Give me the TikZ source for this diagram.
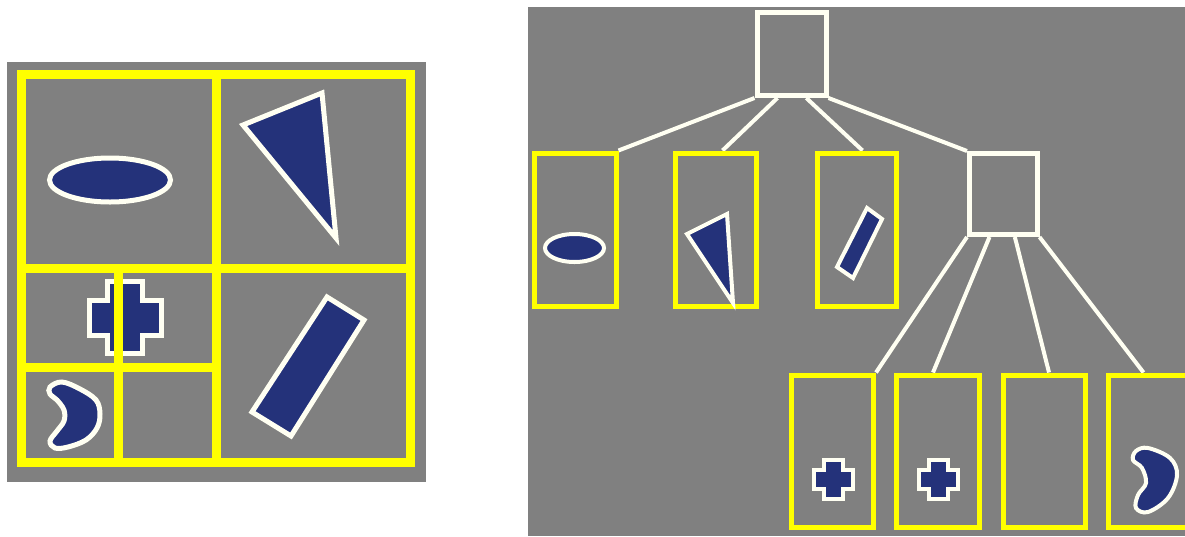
\documentclass[tikz,border=0pt]{standalone}
\usetikzlibrary{calc}
\pgfdeclarelayer{back}
\pgfdeclarelayer{lines}
\pgfsetlayers{back,lines,main}
\definecolor{panelgray}{RGB}{128,128,128}
\definecolor{boxyellow}{RGB}{255,255,0}
\definecolor{navy}{RGB}{36,50,122}
\definecolor{cream}{RGB}{255,255,242}
\newcommand{\drawplus}[5]{%
  \draw[#5] ({#1-#4},{#2-#3}) -- ({#1+#4},{#2-#3}) -- ({#1+#4},{#2-#4}) -- ({#1+#3},{#2-#4}) -- ({#1+#3},{#2+#4}) -- ({#1+#4},{#2+#4}) -- ({#1+#4},{#2+#3}) -- ({#1-#4},{#2+#3}) -- ({#1-#4},{#2+#4}) -- ({#1-#3},{#2+#4}) -- ({#1-#3},{#2-#4}) -- ({#1-#4},{#2-#4}) -- cycle;}
\begin{document}
\begin{tikzpicture}[x=1pt,y=-1pt,
  gridline/.style={draw=boxyellow,line width=9pt},
  bigshape/.style={fill=navy,draw=cream,line width=5pt,line join=miter},
  smallshape/.style={fill=navy,draw=cream,line width=4pt,line join=miter},
  treebox/.style={draw=cream,line width=5pt,inner sep=0pt,rectangle},
  leafbox/.style={draw=boxyellow,line width=5pt,inner sep=0pt,rectangle,minimum height=153.5pt},
  lowleaf/.style={draw=boxyellow,line width=5pt,inner sep=0pt,rectangle,minimum height=152.5pt,minimum width=82pt},
  edge/.style={draw=cream,line width=4pt}]
\useasboundingbox (0,0) rectangle (1185,536);
\begin{pgfonlayer}{back}
  \fill[white] (0,0) rectangle (1185,536);
  \fill[panelgray] (7,62) rectangle (426,482);
  \fill[panelgray] (528,7) rectangle (1185,536);
\end{pgfonlayer}

% ---- left panel: shapes ----
\draw[bigshape] (110,180) ellipse [x radius=60.5, y radius=22];
\draw[bigshape] (243,125) -- (322,93) -- (336,238) -- cycle;
\drawplus{125}{317.5}{36}{17.5}{bigshape}
\draw[bigshape] (327,297) -- (364,320) -- (291,436) -- (252,412) -- cycle;
\draw[bigshape] plot[smooth cycle, tension=0.6] coordinates {(50,387) (62,382) (80,389) (96,400) (100,414) (97,428) (86,440) (68,447) (55,448) (50,441) (57,431) (64,421) (64,410) (57,400) (50,394)};

% ---- left panel: yellow grid ----
\draw[gridline] (21,74) rectangle (410,462);
\draw[gridline] (216,74) -- (216,462);
\draw[gridline] (21,268.5) -- (410,268.5);
\draw[gridline] (21,367) -- (216,367);
\draw[gridline] (118,268.5) -- (118,462);

% ---- right panel: tree ----
\node[treebox,minimum width=69pt,minimum height=83.5pt] (root) at (791.5,53.75) {};
\node[treebox,minimum width=67.5pt,minimum height=81pt] (inner) at (1003.25,194) {};
\node[leafbox,minimum width=81.5pt] (leaf1) at (575.25,229.75) {};
\node[leafbox,minimum width=81pt] (leaf2) at (715.5,229.75) {};
\node[leafbox,minimum width=79pt] (leaf3) at (856.5,229.75) {};
\node[lowleaf] (leaf4) at (832.5,451.25) {};
\node[lowleaf,minimum width=83pt] (leaf5) at (938,451.25) {};
\node[lowleaf] (leaf6) at (1044,451.25) {};
\node[lowleaf] (leaf7) at (1149.5,451.25) {};

\begin{pgfonlayer}{lines}
  \draw[edge] (root.south west) -- (leaf1.north east);
  \draw[edge] ($(root.south west)!0.31!(root.south east)$) -- ([xshift=7pt]leaf2.north);
  \draw[edge] ($(root.south west)!0.70!(root.south east)$) -- ([xshift=6pt]leaf3.north);
  \draw[edge] (root.south east) -- (inner.north west);
  \draw[edge] (inner.south west) -- (leaf4.north east);
  \draw[edge] ($(inner.south west)!0.31!(inner.south east)$) -- ([xshift=-5pt]leaf5.north);
  \draw[edge] ($(inner.south west)!0.66!(inner.south east)$) -- ([xshift=5pt]leaf6.north);
  \draw[edge] (inner.south east) -- ([xshift=-6pt]leaf7.north);
\end{pgfonlayer}

% ---- right panel: leaf contents ----
\draw[smallshape] (574.5,248) ellipse [x radius=29.5, y radius=14];
\draw[smallshape] (687,234) -- (727,214) -- (733,303) -- cycle;
\draw[smallshape] (867,208) -- (882,219) -- (853,278) -- (837,267) -- cycle;
\drawplus{833.7}{479}{19.5}{9.5}{smallshape}
\drawplus{938.8}{479}{19.5}{9.5}{smallshape}
\draw[smallshape] plot[smooth cycle, tension=0.6] coordinates {(1136,451) (1148,448) (1170,458) (1177,475) (1168,498) (1148,512) (1136,508) (1138,495) (1146,483) (1142,468) (1133,460)};
\end{tikzpicture}
\end{document}
